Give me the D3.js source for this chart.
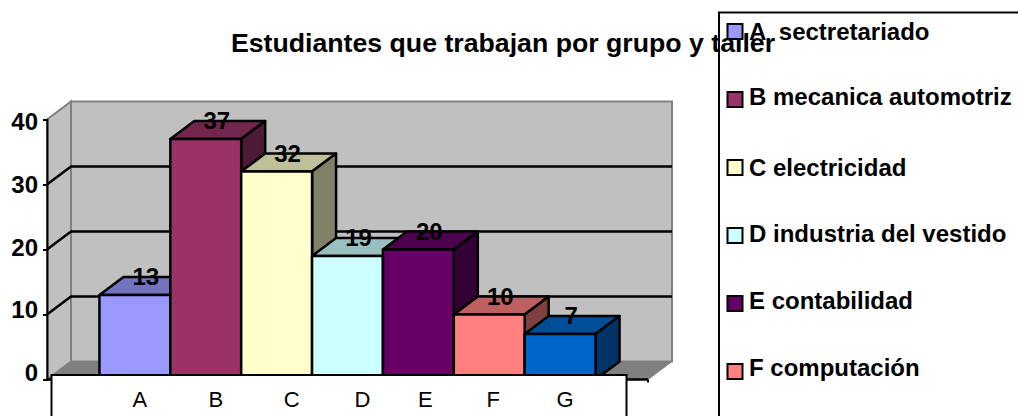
<!DOCTYPE html>
<html>
<head>
<meta charset="utf-8">
<script src="https://cdn.jsdelivr.net/npm/d3@7"></script>
<style>
body { margin: 0; background: #fff; }
svg { display: block; font-family: "Liberation Sans", Arial, sans-serif; }
</style>
</head>
<body>
<svg></svg>
<script>
var categories = ['A', 'B', 'C', 'D', 'E', 'F', 'G']
var values = [13, 37, 32, 19, 20, 10, 7]
var colors = ['#9999ff', '#993366', '#ffffcc', '#ccffff', '#660066', '#ff8080', '#0066cc']
var yTicks = [0, 10, 20, 30, 40]
var legendLabels = ['A  sectretariado', 'B mecanica automotriz', 'C electricidad', 'D industria del vestido', 'E contabilidad', 'F computación']
var title = 'Estudiantes que trabajan por grupo y taller'

var width = 1018
var height = 416

// the labels in the table under the chart do not sit under their bars
var labelShift = [5, 10, 15, 15, 7, 4, 5]
var legendTextY = [40, 105, 176, 242, 309, 376]
var legendSwatchY = [24, 92, 160, 228, 296, 364]

var depthX = 24
var depthY = 18

var svg = d3.select('svg').attr('width', width).attr('height', height)

var x = d3.scaleBand().domain(categories).range([47, 648]).paddingInner(0).paddingOuter(0.74)
var y = d3.scaleLinear().domain([0, 40]).range([379.5, 119.5])
// tick labels are spaced a little tighter than the ticks themselves
var yLabel = d3.scaleLinear().domain([0, 40]).range([372, 121])

var x0 = x.range()[0]
var x1 = x.range()[1]

function points(list) {
	return list.map(function(p) {return p.join(',')}).join(' ')
}

function shade(color, k) {
	var c = d3.rgb(color)
	return d3.rgb(c.r * k, c.g * k, c.b * k).formatHex()
}

// walls and floor
svg.append('polygon')
	.attr('points', points([[x0, y(0)], [x0 + depthX, y(0) - depthY], [x0 + depthX, y(40) - depthY], [x0, y(40)]]))
	.attr('fill', '#c0c0c0').attr('stroke', '#808080').attr('stroke-width', 2)
svg.append('rect')
	.attr('x', x0 + depthX).attr('y', y(40) - depthY)
	.attr('width', x1 - x0).attr('height', y(0) - y(40))
	.attr('fill', '#c0c0c0').attr('stroke', '#808080').attr('stroke-width', 2)
svg.append('polygon')
	.attr('points', points([[x0, y(0)], [x0 + depthX, y(0) - depthY], [x1 + depthX, y(0) - depthY], [x1, y(0)]]))
	.attr('fill', '#808080').attr('stroke', '#808080')

// gridlines
var grid = svg.append('g').attr('fill', 'none').attr('stroke', '#000').attr('stroke-width', 2.5)
grid.selectAll('polyline')
	.data(yTicks.slice(1, -1))
	.enter().append('polyline')
	.attr('points', function(d) {
		return points([[x0, y(d)], [x0 + depthX, y(d) - depthY], [x1 + depthX, y(d) - depthY]])
	})

// front edge and axis
svg.append('line').attr('x1', x0).attr('x2', x1).attr('y1', y(0)).attr('y2', y(0)).attr('stroke', '#000').attr('stroke-width', 2.5)
svg.append('line').attr('x1', x1).attr('x2', x1).attr('y1', y(0)).attr('y2', y(0) + 3).attr('stroke', '#000').attr('stroke-width', 2)

var yAxis = svg.append('g')
	.attr('transform', 'translate(' + x0 + ',0)')
	.call(d3.axisLeft(y).tickValues(yTicks).tickSize(4).tickPadding(5))
yAxis.select('.domain').attr('stroke', '#000').attr('stroke-width', 2)
yAxis.selectAll('.tick line').attr('stroke', '#000').attr('stroke-width', 2)
yAxis.selectAll('text')
	.attr('font-family', '"Liberation Sans", Arial, sans-serif')
	.attr('font-size', 24).attr('font-weight', 'bold').attr('fill', '#000')
	.attr('y', function(d) {return yLabel(d) - y(d)})
	.attr('dy', '0.36em')

// bars, left to right so each one covers the side of the one before
var bars = svg.append('g').attr('stroke', '#000').attr('stroke-width', 2.5).attr('stroke-linejoin', 'round')
var bar = bars.selectAll('g')
	.data(categories)
	.enter().append('g')

bar.append('polygon')
	.attr('fill', function(d, i) {return shade(colors[i], 0.75)})
	.attr('points', function(d, i) {
		var l = x(d), r = l + x.bandwidth(), t = y(values[i])
		return points([[l, t], [l + depthX, t - depthY], [r + depthX, t - depthY], [r, t]])
	})
bar.append('polygon')
	.attr('fill', function(d, i) {return shade(colors[i], 0.5)})
	.attr('points', function(d, i) {
		var r = x(d) + x.bandwidth(), t = y(values[i])
		return points([[r, t], [r + depthX, t - depthY], [r + depthX, y(0) - depthY], [r, y(0)]])
	})
bar.append('rect')
	.attr('fill', function(d, i) {return colors[i]})
	.attr('x', function(d) {return x(d)})
	.attr('y', function(d, i) {return y(values[i])})
	.attr('width', x.bandwidth())
	.attr('height', function(d, i) {return y(0) - y(values[i])})

// value labels
svg.append('g').selectAll('text')
	.data(categories)
	.enter().append('text')
	.attr('x', function(d) {return x(d) + x.bandwidth() / 2 + 11})
	.attr('y', function(d, i) {return y(values[i]) - 10})
	.attr('text-anchor', 'middle')
	.attr('font-size', 24).attr('font-weight', 'bold').attr('fill', '#000')
	.text(function(d, i) {return values[i]})

// table box under the chart, runs off the bottom of the picture
svg.append('rect')
	.attr('x', 51.5).attr('y', 375)
	.attr('width', 575).attr('height', 60)
	.attr('fill', '#fff').attr('stroke', '#000').attr('stroke-width', 2)

svg.append('g').selectAll('text')
	.data(categories)
	.enter().append('text')
	.attr('x', function(d, i) {return x(d) + x.bandwidth() / 2 + labelShift[i]})
	.attr('y', 407)
	.attr('text-anchor', 'middle')
	.attr('font-size', 22).attr('fill', '#000')
	.text(function(d) {return d})

// title sits under the legend box
svg.append('text')
	.attr('x', 503).attr('y', 52)
	.attr('text-anchor', 'middle')
	.attr('font-size', 26.7).attr('font-weight', 'bold').attr('fill', '#000')
	.text(title)

// legend, also cut off by the picture
svg.append('rect')
	.attr('x', 719).attr('y', 12.5)
	.attr('width', 320).attr('height', 430)
	.attr('fill', 'none').attr('stroke', '#000').attr('stroke-width', 2)

var legend = svg.append('g')
legend.selectAll('rect')
	.data(legendLabels)
	.enter().append('rect')
	.attr('x', 727.5)
	.attr('y', function(d, i) {return legendSwatchY[i]})
	.attr('width', 15).attr('height', 15)
	.attr('fill', function(d, i) {return colors[i]})
	.attr('stroke', '#000').attr('stroke-width', 2)
legend.selectAll('text')
	.data(legendLabels)
	.enter().append('text')
	.attr('x', 749)
	.attr('y', function(d, i) {return legendTextY[i]})
	.attr('font-size', 24).attr('font-weight', 'bold').attr('fill', '#000')
	.style('white-space', 'pre')
	.text(function(d) {return d})
</script>
</body>
</html>
